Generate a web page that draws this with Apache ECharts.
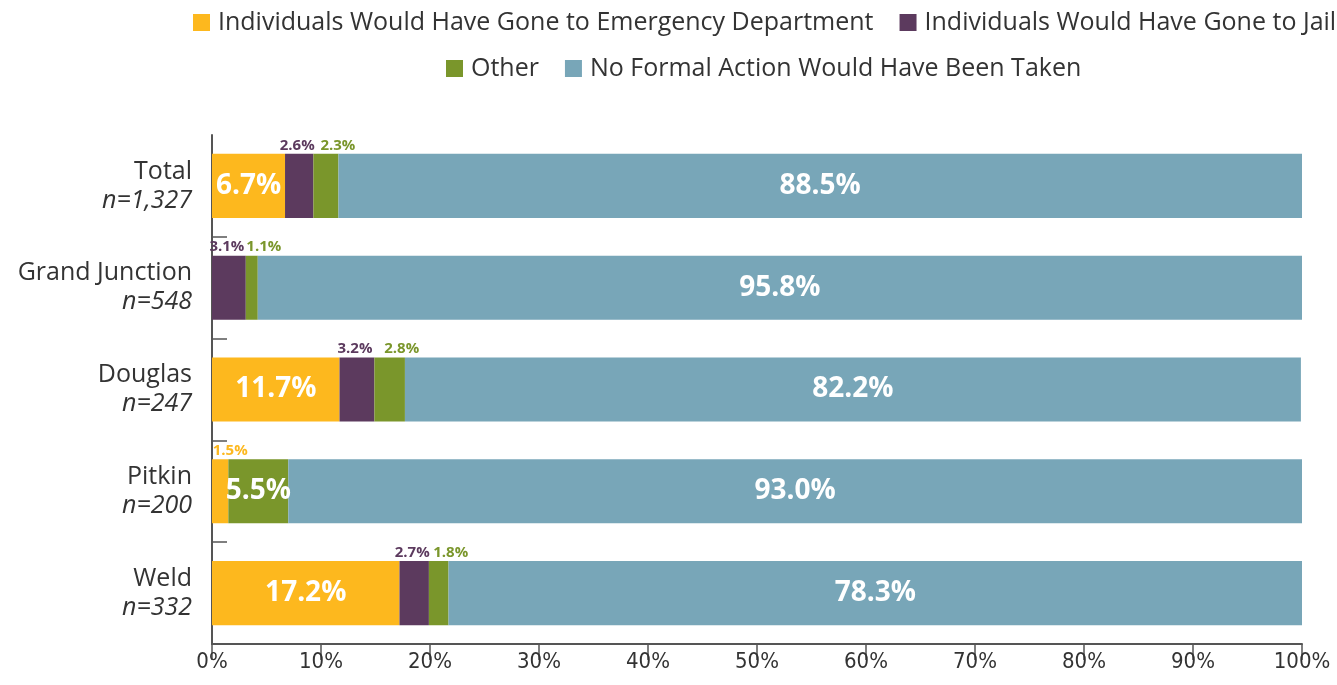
<!DOCTYPE html>
<html>
<head>
<meta charset="utf-8">
<script src="https://cdn.jsdelivr.net/npm/echarts@6/dist/echarts.min.js"></script>
<style>
html,body{margin:0;padding:0;background:#fff;}
#chart{width:1337px;height:685px;}
</style>
</head>
<body>
<div id="chart"></div>
<script>
const categories = ['Total', 'Grand Junction', 'Douglas', 'Pitkin', 'Weld'];
const sampleSizes = ['n=1,327', 'n=548', 'n=247', 'n=200', 'n=332'];
const seriesNames = [
  'Individuals Would Have Gone to Emergency Department',
  'Individuals Would Have Gone to Jail',
  'Other',
  'No Formal Action Would Have Been Taken'
];
const edValues = [6.7, 0, 11.7, 1.5, 17.2];
const jailValues = [2.6, 3.1, 3.2, 0, 2.7];
const otherValues = [2.3, 1.1, 2.8, 5.5, 1.8];
const noActionValues = [88.5, 95.8, 82.2, 93.0, 78.3];
const xTickValues = { min: 0, max: 100, interval: 10 };

const colors = ['#FDB81E', '#5C3A5E', '#7A962B', '#78A6B8'];
const mainFont = '"Open Sans", Lato, sans-serif';
const axisFont = '"Liberation Sans Narrow", "DejaVu Sans Condensed", "Roboto", sans-serif';

function makeData(values, color, offset) {
  return values.map(v => {
    if (!v) return { value: v, label: { show: false } };
    if (v >= 4) {
      return { value: v, label: { show: true, position: 'inside', color: '#fff', fontSize: 28, fontWeight: 'bold', fontFamily: mainFont } };
    }
    return { value: v, label: { show: true, position: 'top', distance: 1, offset: offset, color: color, fontSize: 15, fontWeight: 'bold', fontFamily: mainFont } };
  });
}

const allValues = [edValues, jailValues, otherValues, noActionValues];
const offsets = [[10, 0], [-2, 0], [12, 0], [0, 0]];

const series = allValues.map((vals, i) => ({
  name: seriesNames[i],
  type: 'bar',
  stack: 'total',
  barWidth: '63%',
  itemStyle: { color: colors[i] },
  label: { formatter: p => p.value.toFixed(1) + '%' },
  data: makeData(vals, colors[i], offsets[i])
}));

const legendText = { fontSize: 25, color: '#333', fontFamily: mainFont, padding: [0, 0, 0, 3] };

const chart = echarts.init(document.getElementById('chart'));
chart.setOption({
  animation: false,
  color: colors,
  legend: [
    {
      data: seriesNames.slice(0, 2),
      left: 188, top: 5, width: 1149,
      icon: 'rect', itemWidth: 17, itemHeight: 17, itemGap: 26,
      textStyle: legendText
    },
    {
      data: seriesNames.slice(2),
      left: 441, top: 51, width: 890,
      icon: 'rect', itemWidth: 17, itemHeight: 17, itemGap: 26,
      textStyle: legendText
    }
  ],
  grid: { left: 212, right: 35, top: 135, bottom: 41, containLabel: false },
  xAxis: {
    type: 'value',
    min: xTickValues.min, max: xTickValues.max, interval: xTickValues.interval,
    axisLine: { show: true, lineStyle: { color: '#555', width: 2 } },
    axisTick: { show: true, length: 16, lineStyle: { color: '#555', width: 1.5 } },
    splitLine: { show: false },
    axisLabel: { formatter: '{value}%', fontSize: 22, color: '#333', fontFamily: axisFont, margin: 7 }
  },
  yAxis: {
    type: 'category',
    data: categories,
    inverse: true,
    axisLine: { show: true, lineStyle: { color: '#555', width: 2 } },
    axisTick: { show: true, inside: true, length: 15, interval: (i) => i !== 0, lineStyle: { color: '#555', width: 1.5 } },
    axisLabel: {
      margin: 20,
      align: 'right',
      formatter: (v, i) => '{name|' + v + '}\n{n|' + sampleSizes[i] + '}',
      rich: {
        name: { fontSize: 25, color: '#333', fontFamily: mainFont, lineHeight: 29, align: 'right' },
        n: { fontSize: 25, color: '#333', fontFamily: mainFont, fontStyle: 'italic', lineHeight: 29, align: 'right' }
      }
    }
  },
  series: series
});
</script>
</body>
</html>
